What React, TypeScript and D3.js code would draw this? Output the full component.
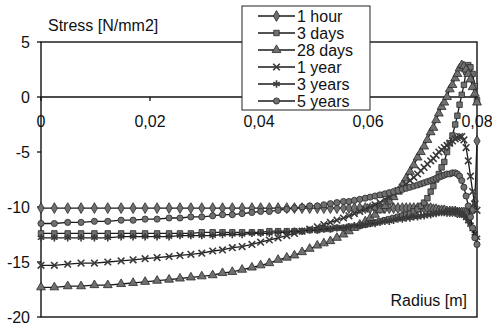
import React from "react";
import * as d3 from "d3";

const radius = [
  0, 0.00245, 0.0049, 0.00735, 0.0098, 0.01225, 0.0147, 0.0169, 0.0191, 0.0213,
  0.0235, 0.0255, 0.0275, 0.0295, 0.0315, 0.0333, 0.0351, 0.0369, 0.0387, 0.0403,
  0.0419, 0.0435, 0.0451, 0.0465, 0.0479, 0.0493, 0.0507, 0.0519, 0.0531, 0.0543,
  0.0555, 0.0565, 0.0575, 0.0585, 0.0595, 0.0604, 0.0613, 0.0622, 0.0631, 0.0639,
  0.0647, 0.0655, 0.0663, 0.067, 0.0677, 0.0684, 0.0691, 0.0697, 0.0703, 0.0709,
  0.0715, 0.072, 0.0725, 0.073, 0.0735, 0.074, 0.0745, 0.075, 0.0755, 0.076,
  0.0764, 0.0768, 0.0772, 0.0776, 0.078, 0.0784, 0.0788, 0.0792, 0.0796, 0.08,
];

const stress1Hour = [
  -10.1, -10.1, -10.1, -10.1, -10.1, -10.1, -10.1, -10.1, -10.1, -10.1,
  -10.1, -10.1, -10.1, -10.1, -10.1, -10.1, -10.1, -10.1, -10.1, -10.1,
  -10.1, -10.1, -10.1, -10.1, -10.1, -10.1, -10.1, -10.1, -10.1, -10.1,
  -10.1, -10.1, -10.1, -10.1, -10.1, -10.1, -10.1, -10.1, -10.1, -10.1,
  -10.1, -10.1, -10.1, -10.1, -10.1, -10.1, -10.1, -10.1, -10.1, -10.1,
  -10.1, -10.2, -10.2, -10.3, -10.3, -10.3, -10.4, -10.4, -10.4, -10.4,
  -10.5, -10.5, -10.5, -10.5, -10.5, -10.5, -10.4, -10.2, -9.5, -4.0,
];

const stress3Days = [
  -12.4, -12.4, -12.4, -12.4, -12.4, -12.4, -12.4, -12.4, -12.4, -12.4,
  -12.4, -12.4, -12.4, -12.3, -12.3, -12.3, -12.3, -12.3, -12.3, -12.3,
  -12.2, -12.2, -12.2, -12.2, -12.2, -12.1, -12.1, -12.0, -12.0, -11.9,
  -11.9, -11.8, -11.8, -11.7, -11.6, -11.5, -11.4, -11.3, -11.2, -11.1,
  -11.0, -10.9, -10.8, -10.7, -10.6, -10.4, -10.2, -9.9, -9.6, -9.2,
  -8.6, -8.1, -7.5, -7.0, -6.4, -5.9, -5.0, -4.2, -3.5, -2.5,
  -1.7, -0.7, 0.2, 1.1, 2.3, 2.9, 2.7, 2.1, 1.0, -0.3,
];

const stress28Days = [
  -17.3, -17.3, -17.2, -17.2, -17.1, -17.1, -17.0, -16.9, -16.8, -16.7,
  -16.6, -16.5, -16.4, -16.3, -16.2, -16.0, -15.9, -15.7, -15.5, -15.3,
  -15.1, -14.8, -14.6, -14.4, -14.1, -13.8, -13.5, -13.3, -13.1, -12.8,
  -12.5, -12.2, -11.9, -11.6, -11.3, -11.0, -10.7, -10.3, -9.9, -9.5,
  -9.1, -8.6, -8.0, -7.4, -6.8, -6.2, -5.5, -5.0, -4.5, -3.9,
  -3.2, -2.8, -2.1, -1.5, -0.9, -0.5, 0.0, 0.7, 1.1, 1.7,
  2.1, 2.6, 2.9, 2.8, 2.5, 2.1, 1.6, 0.9, 0.3, -0.5,
];

const stress1Year = [
  -15.3, -15.3, -15.2, -15.1, -15.1, -15.0, -14.9, -14.8, -14.7, -14.6,
  -14.5, -14.4, -14.3, -14.2, -14.0, -13.9, -13.7, -13.6, -13.4, -13.2,
  -13.0, -12.8, -12.6, -12.4, -12.2, -12.0, -11.8, -11.6, -11.4, -11.2,
  -11.0, -10.8, -10.6, -10.4, -10.2, -10.0, -9.8, -9.6, -9.3, -9.1,
  -8.8, -8.5, -8.2, -7.9, -7.6, -7.3, -7.0, -6.7, -6.4, -6.1,
  -5.8, -5.6, -5.3, -5.0, -4.8, -4.6, -4.4, -4.2, -4.0, -3.8,
  -3.7, -3.6, -3.6, -3.9, -4.6, -5.8, -7.2, -8.6, -9.7, -10.3,
];

const stress3Years = [
  -12.8, -12.8, -12.8, -12.8, -12.8, -12.8, -12.7, -12.7, -12.7, -12.7,
  -12.7, -12.6, -12.6, -12.6, -12.6, -12.5, -12.5, -12.5, -12.4, -12.4,
  -12.4, -12.3, -12.3, -12.2, -12.2, -12.1, -12.1, -12.0, -12.0, -11.9,
  -11.9, -11.8, -11.7, -11.7, -11.6, -11.5, -11.5, -11.4, -11.3, -11.3,
  -11.2, -11.1, -11.1, -11.0, -11.0, -10.9, -10.9, -10.8, -10.8, -10.7,
  -10.7, -10.6, -10.6, -10.5, -10.5, -10.5, -10.4, -10.4, -10.4, -10.4,
  -10.4, -10.5, -10.6, -10.8, -11.0, -11.3, -11.6, -12.0, -12.4, -12.8,
];

const stress5Years = [
  -11.5, -11.5, -11.4, -11.4, -11.3, -11.3, -11.2, -11.2, -11.1, -11.1,
  -11.0, -11.0, -10.9, -10.9, -10.8, -10.7, -10.7, -10.6, -10.5, -10.4,
  -10.4, -10.3, -10.2, -10.1, -10.0, -9.9, -9.9, -9.8, -9.7, -9.6,
  -9.5, -9.5, -9.4, -9.3, -9.2, -9.1, -9.0, -8.9, -8.8, -8.7,
  -8.6, -8.5, -8.4, -8.3, -8.2, -8.1, -8.0, -7.9, -7.8, -7.7,
  -7.6, -7.5, -7.4, -7.3, -7.2, -7.1, -7.0, -7.0, -6.9, -6.9,
  -7.0, -7.2, -7.6, -8.2, -9.0, -9.9, -10.9, -11.9, -12.8, -13.4,
];

const seriesNames = ["1 hour", "3 days", "28 days", "1 year", "3 years", "5 years"];
const seriesValues = [stress1Hour, stress3Days, stress28Days, stress1Year, stress3Years, stress5Years];

const xTickValues = [0, 0.02, 0.04, 0.06, 0.08];
const xTickLabels = ["0", "0,02", "0,04", "0,06", "0,08"];
const yTickValues = [5, 0, -5, -10, -15, -20];

const W = 492;
const H = 328;
const FONT = "'Liberation Sans', Arial, Helvetica, sans-serif";

const x = d3.scaleLinear().domain([0, 0.08]).range([41, 477]);
const y = d3.scaleLinear().domain([-20, 5]).range([317, 42]);

const symbolTypes = [
  d3.symbolDiamond,
  d3.symbolSquare,
  d3.symbolTriangle,
  d3.symbolTimes,
  d3.symbolAsterisk,
  d3.symbolCircle,
];
const symbolSizes = [34, 30, 34, 30, 38, 30];
const strokeOnly = [false, false, false, true, true, false];

function Marker({ i, cx, cy }: { i: number; cx: number; cy: number }) {
  const d = d3.symbol().type(symbolTypes[i]).size(symbolSizes[i])() || "";
  return strokeOnly[i] ? (
    <path d={d} transform={`translate(${cx},${cy})`} fill="none" stroke="#3a3a3a" strokeWidth={1.6} />
  ) : (
    <path d={d} transform={`translate(${cx},${cy})`} fill="#707070" stroke="#2a2a2a" strokeWidth={0.8} />
  );
}

export default function App() {
  const line = d3
    .line<number>()
    .x((_, k) => x(radius[k]))
    .y((v) => y(v));

  const legendX0 = 242;
  const legendY0 = 6;
  const rowH = 17;

  return (
    <div style={{ position: "absolute", left: 0, top: 0 }}>
      <svg width={W} height={H} style={{ display: "block", background: "#fff" }}>
        <rect x={0} y={0} width={W} height={H} fill="#fff" />
        <rect x={x(0)} y={y(5)} width={x(0.08) - x(0)} height={y(-20) - y(5)} fill="none" stroke="#111" strokeWidth={1.4} />
        {yTickValues.map((v) => (
          <g key={"yt" + v}>
            <line x1={x(0) - 4} x2={x(0)} y1={y(v)} y2={y(v)} stroke="#111" strokeWidth={1.3} />
            <text x={30} y={y(v) + 5.5} textAnchor="end" fontFamily={FONT} fontSize={16} fill="#111">
              {v}
            </text>
          </g>
        ))}
        <line x1={x(0)} x2={x(0.08)} y1={y(0)} y2={y(0)} stroke="#111" strokeWidth={1.4} />
        {xTickValues.map((v, k) => (
          <g key={"xt" + k}>
            <line x1={x(v)} x2={x(v)} y1={y(0)} y2={y(0) + 4} stroke="#111" strokeWidth={1.3} />
            <text x={x(v)} y={127} textAnchor="middle" fontFamily={FONT} fontSize={16} fill="#111">
              {xTickLabels[k]}
            </text>
          </g>
        ))}
        {seriesValues.map((vals, i) => (
          <g key={"s" + i}>
            <path d={line(vals) || ""} fill="none" stroke="#1a1a1a" strokeWidth={1.3} />
            {vals.map((v, k) => (
              <Marker key={k} i={i} cx={x(radius[k])} cy={y(v)} />
            ))}
          </g>
        ))}
        <text x={48} y={31} fontFamily={FONT} fontSize={16} fill="#111">
          Stress [N/mm2]
        </text>
        <text x={467} y={306} textAnchor="end" fontFamily={FONT} fontSize={16} fill="#111">
          Radius [m]
        </text>
        <rect x={legendX0} y={legendY0} width={128} height={104} fill="#fff" stroke="#222" strokeWidth={1} />
        {seriesNames.map((name, i) => {
          const cy = legendY0 + 10 + i * rowH;
          return (
            <g key={"lg" + i}>
              <line x1={258} x2={295} y1={cy} y2={cy} stroke="#1a1a1a" strokeWidth={1.3} />
              <Marker i={i} cx={276.5} cy={cy} />
              <text x={297} y={cy + 6} fontFamily={FONT} fontSize={16} fill="#111">
                {name}
              </text>
            </g>
          );
        })}
      </svg>
    </div>
  );
}
